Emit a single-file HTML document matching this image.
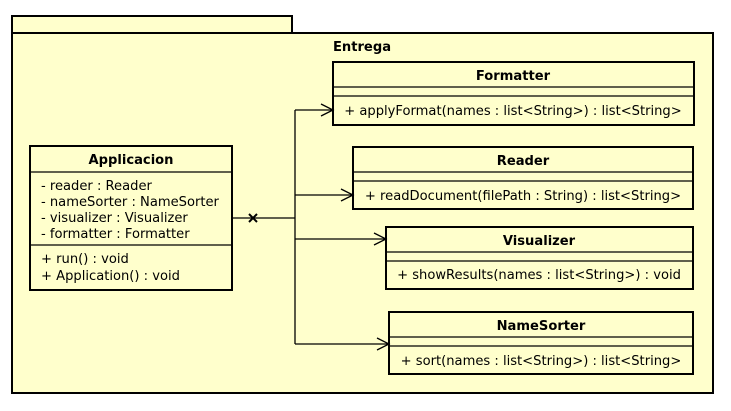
<!DOCTYPE html>
<html><head><meta charset="utf-8"><style>
html,body{margin:0;padding:0;background:#fff;width:731px;height:411px;overflow:hidden}
svg text{font-family:"DejaVu Sans","Liberation Sans",sans-serif;font-size:13.1px;fill:#000}
.b{font-weight:bold}
</style></head><body>
<svg width="731" height="411" xmlns="http://www.w3.org/2000/svg">
<g fill="#ffffcc" stroke="#000" stroke-width="2">
<rect x="12" y="16" width="280" height="17"/>
<rect x="12" y="33" width="701" height="360"/>
<rect x="30" y="146" width="202" height="144"/>
<rect x="333" y="62" width="361" height="63"/>
<rect x="353" y="147" width="340" height="62"/>
<rect x="386" y="227" width="307" height="62"/>
<rect x="389" y="312" width="304" height="62"/>
</g>
<g stroke="#000" stroke-width="1.3" fill="none">
<line x1="30" y1="172" x2="232" y2="172"/><line x1="30" y1="245" x2="232" y2="245"/>
<line x1="333" y1="87" x2="694" y2="87"/><line x1="333" y1="96" x2="694" y2="96"/>
<line x1="353" y1="172" x2="693" y2="172"/><line x1="353" y1="181" x2="693" y2="181"/>
<line x1="386" y1="252" x2="693" y2="252"/><line x1="386" y1="261" x2="693" y2="261"/>
<line x1="389" y1="337" x2="693" y2="337"/><line x1="389" y1="346" x2="693" y2="346"/>
<path d="M232 218H295M295 110V344M295 110H333M295 195H353M295 239H386M295 344H389"/>
<path d="M321 104L333 110L321 116M341 189L353 195L341 201M374 233L386 239L374 245M377 338L389 344L377 350"/>
<path d="M249 214L257 222M257 214L249 222" stroke-width="2"/>
</g>
<text x="362" y="51" text-anchor="middle" class="b">Entrega</text>
<text x="131" y="164" text-anchor="middle" class="b">Applicacion</text>
<text x="41" y="190">- reader : Reader</text>
<text x="41" y="206">- nameSorter : NameSorter</text>
<text x="41" y="222">- visualizer : Visualizer</text>
<text x="41" y="238">- formatter : Formatter</text>
<text x="41" y="263">+ run() : void</text>
<text x="41" y="280">+ Application() : void</text>
<text x="513" y="80" text-anchor="middle" class="b">Formatter</text>
<text x="513" y="115" text-anchor="middle">+ applyFormat(names : list&lt;String&gt;) : list&lt;String&gt;</text>
<text x="523" y="165" text-anchor="middle" class="b">Reader</text>
<text x="523" y="200" text-anchor="middle">+ readDocument(filePath : String) : list&lt;String&gt;</text>
<text x="539" y="245" text-anchor="middle" class="b">Visualizer</text>
<text x="539" y="279" text-anchor="middle">+ showResults(names : list&lt;String&gt;) : void</text>
<text x="541" y="330" text-anchor="middle" class="b">NameSorter</text>
<text x="541" y="365" text-anchor="middle">+ sort(names : list&lt;String&gt;) : list&lt;String&gt;</text>
</svg>
</body></html>
